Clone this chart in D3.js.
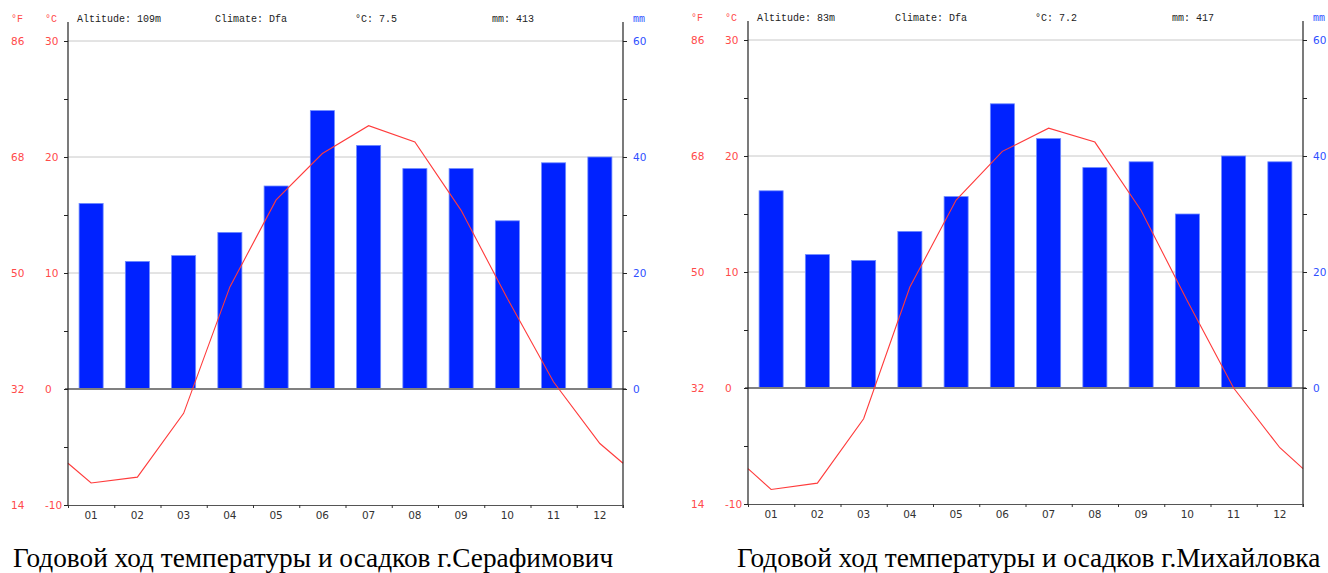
<!DOCTYPE html>
<html><head><meta charset="utf-8">
<script src="https://cdn.jsdelivr.net/npm/d3@7"></script>
<style>html,body{margin:0;padding:0;background:#fff;}svg{display:block;}</style>
</head><body>
<script>
const months = ["01","02","03","04","05","06","07","08","09","10","11","12"];
const tempSerafimovich = [-8.1,-7.6,-2.1,8.8,16.3,20.3,22.7,21.3,15.4,7.8,0.6,-4.7];
const precipSerafimovich = [32,22,23,27,35,48,42,38,38,29,39,40];
const tempMikhailovka = [-8.75,-8.2,-2.65,8.7,16.2,20.4,22.4,21.2,15.3,7.5,0.0,-5.15];
const precipMikhailovka = [34,23,22,27,33,49,43,38,39,30,40,39];
const celsiusLabels = [-10,0,10,20,30];
const fahrenheitLabels = ["14","32","50","68","86"];
const celsiusMinor = [-10,-5,0,5,10,15,20,25,30];
const precipLabels = [0,20,40,60];
const precipMinor = [0,10,20,30,40,50,60];
const gridValues = [10,20,30];
const headers = [
  {alt:"Altitude: 109m", clim:"Climate: Dfa", t:"°C: 7.5", mm:"mm: 413",
   title:"Годовой ход температуры и осадков г.Серафимович"},
  {alt:"Altitude: 83m", clim:"Climate: Dfa", t:"°C: 7.2", mm:"mm: 417",
   title:"Годовой ход температуры и осадков г.Михайловка"}
];

const svg = d3.select("body").append("svg").attr("width",1328).attr("height",573);
const RED = "#ff4a4a", BLUE = "#2f4fff";
const monoFont = "'Liberation Mono', monospace";
const sansFont = "'DejaVu Sans', sans-serif";

function drawChart(cfg, temps, precs, hdr){
  const {left, right, top, bottom, titleX} = cfg;
  const g = svg.append("g");
  const x = d3.scaleBand().domain(months).range([left,right]).padding(0);
  const xl = d3.scaleLinear().domain([-0.5,11.5]).range([left,right]);
  const yT = d3.scaleLinear().domain([-10,30]).range([bottom,top]);
  const yP = d3.scaleLinear().domain([0,60]).range([yT(0),yT(30)]);

  g.selectAll(".grid").data(gridValues).enter().append("line")
    .attr("x1",left).attr("x2",right).attr("y1",d=>yT(d)).attr("y2",d=>yT(d))
    .attr("stroke","#c8c8c8").attr("stroke-width",1);

  const bw = x.bandwidth()*0.52;
  g.selectAll(".bar").data(precs).enter().append("rect")
    .attr("x",(d,i)=>x(months[i])+x.bandwidth()/2-bw/2)
    .attr("width",bw)
    .attr("y",d=>yP(d))
    .attr("height",d=>yP(0)-yP(d))
    .attr("fill","#0022ff").attr("stroke","#6f8bff").attr("stroke-width",0.8);

  g.append("line").attr("x1",left-3).attr("x2",right+3)
    .attr("y1",yT(0)).attr("y2",yT(0)).attr("stroke","#808080").attr("stroke-width",2);

  const edge = (temps[0]+temps[11])/2;
  const pts = [[-0.5,edge]].concat(temps.map((t,i)=>[i,t])).concat([[11.5,edge]]);
  g.append("path").datum(pts)
    .attr("d",d3.line().x(d=>xl(d[0])).y(d=>yT(d[1])))
    .attr("fill","none").attr("stroke","#ff3b3b").attr("stroke-width",1.1);

  const la = g.append("g").attr("transform",`translate(${left},0)`)
    .call(d3.axisLeft(yT).tickValues(celsiusMinor).tickSize(4).tickSizeOuter(0).tickFormat(""));
  la.select(".domain").remove();
  la.selectAll("line").attr("stroke","#222");
  g.append("line").attr("x1",left).attr("x2",left).attr("y1",top-19).attr("y2",bottom)
    .attr("stroke","#222").attr("stroke-width",1.2);

  const ra = g.append("g").attr("transform",`translate(${right},0)`)
    .call(d3.axisRight(yP).tickValues(precipMinor).tickSize(4).tickSizeOuter(0).tickFormat(""));
  ra.select(".domain").remove();
  ra.selectAll("line").attr("stroke","#222");
  g.append("line").attr("x1",right).attr("x2",right).attr("y1",top-19).attr("y2",bottom+3)
    .attr("stroke","#222").attr("stroke-width",1.2);

  const ba = g.append("g").attr("transform",`translate(0,${bottom})`)
    .call(d3.axisBottom(xl).tickValues(d3.range(-0.5,12,1)).tickSize(3).tickSizeOuter(0).tickFormat(""));
  ba.select(".domain").attr("stroke","#555").attr("stroke-width",1.2);
  ba.selectAll("line").attr("stroke","#333");
  g.selectAll(".mlab").data(months).enter().append("text")
    .attr("x",d=>x(d)+x.bandwidth()/2).attr("y",bottom+14)
    .attr("text-anchor","middle").attr("font-family",sansFont).attr("font-size",10.5)
    .attr("fill","#333").text(d=>d);

  g.selectAll(".cl").data(celsiusLabels).enter().append("text")
    .attr("x",left-23).attr("y",d=>yT(d)+4).attr("font-family",sansFont).attr("font-size",10.5)
    .attr("fill",RED).text(d=>d===-10?"-10":d);
  g.selectAll(".fl").data(fahrenheitLabels).enter().append("text")
    .attr("x",left-57).attr("y",(d,i)=>yT(celsiusLabels[i])+4).attr("font-family",sansFont).attr("font-size",10.5)
    .attr("fill",RED).text(d=>d);
  g.append("text").attr("x",left-57).attr("y",top-19).attr("font-family",monoFont).attr("font-size",10)
    .attr("fill",RED).text("°F");
  g.append("text").attr("x",left-23).attr("y",top-19).attr("font-family",monoFont).attr("font-size",10)
    .attr("fill",RED).text("°C");
  g.selectAll(".pl").data(precipLabels).enter().append("text")
    .attr("x",right+10).attr("y",d=>yP(d)+4).attr("font-family",sansFont).attr("font-size",10.5)
    .attr("fill",BLUE).text(d=>d);
  g.append("text").attr("x",right+10).attr("y",top-19).attr("font-family",monoFont).attr("font-size",10)
    .attr("fill",BLUE).text("mm");

  const hy = top-19;
  [[hdr.alt,9],[hdr.clim,147],[hdr.t,287],[hdr.mm,424]].forEach(([t,dx])=>{
    g.append("text").attr("x",left+dx).attr("y",hy).attr("font-family",monoFont)
      .attr("font-size",10).attr("fill","#222").text(t);
  });

  g.append("text").attr("x",titleX).attr("y",567).attr("font-family","'Liberation Serif', serif")
    .attr("font-size",27.3).attr("fill","#000").text(hdr.title);
}

drawChart({left:68,right:623,top:41,bottom:505,titleX:13}, tempSerafimovich, precipSerafimovich, headers[0]);
drawChart({left:748,right:1303,top:40,bottom:504,titleX:737}, tempMikhailovka, precipMikhailovka, headers[1]);
</script>
</body></html>
